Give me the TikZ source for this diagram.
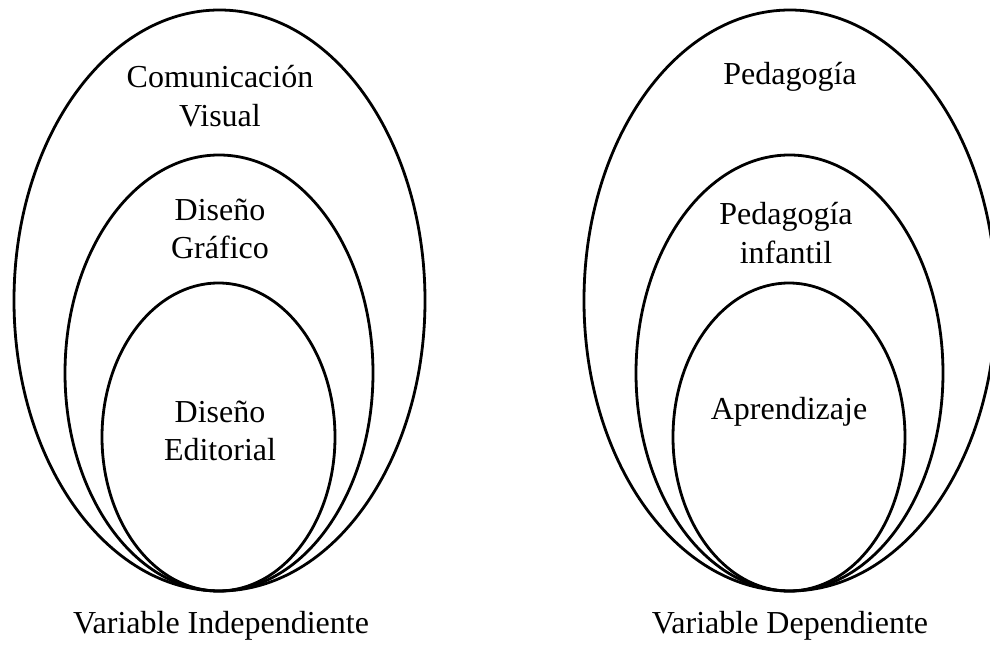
\documentclass[tikz,border=0pt]{standalone}
\usepackage{fontspec}
\setmainfont{Liberation Serif}
\usepackage{tikz}

\begin{document}
\begin{tikzpicture}[x=0.75pt,y=0.75pt,yscale=-1,xscale=1,
  ring/.style={line width=2.1pt},
  lbl/.style={inner sep=0.75pt,align=center,font=\fontsize{24pt}{28.8pt}\selectfont}]
\useasboundingbox (0,0) rectangle (990,645);

%Shape: Ellipse [id:dp1] 
\draw [ring] (219.5,300.5) ellipse (205.5 and 290.5) ;
%Shape: Ellipse [id:dp2] 
\draw [ring] (219,373) ellipse (154 and 218) ;
%Shape: Ellipse [id:dp3] 
\draw [ring] (218.5,437) ellipse (116.5 and 154) ;
%Shape: Ellipse [id:dp4] 
\draw [ring] (790,300.5) ellipse (206 and 290.5) ;
%Shape: Ellipse [id:dp5] 
\draw [ring] (789.5,373) ellipse (153.5 and 218) ;
%Shape: Ellipse [id:dp6] 
\draw [ring] (789,437) ellipse (116 and 154) ;

% Text Node
\draw (220,96) node [lbl] (comvis) {Comunicación\\Visual};
% Text Node
\draw (220,229) node [lbl] (disgraf) {Diseño\\Gráfico};
% Text Node
\draw (220,431) node [lbl] (disedit) {Diseño\\Editorial};
% Text Node
\draw (221,633) node [lbl,anchor=base] (varind) {Variable Independiente};
% Text Node
\draw (790,85) node [lbl,anchor=base] (ped) {Pedagogía};
% Text Node
\draw (786,233) node [lbl] (pedinf) {Pedagogía\\infantil};
% Text Node
\draw (789,420) node [lbl,anchor=base] (apr) {Aprendizaje};
% Text Node
\draw (790,633) node [lbl,anchor=base] (vardep) {Variable Dependiente};

\end{tikzpicture}
\end{document}
